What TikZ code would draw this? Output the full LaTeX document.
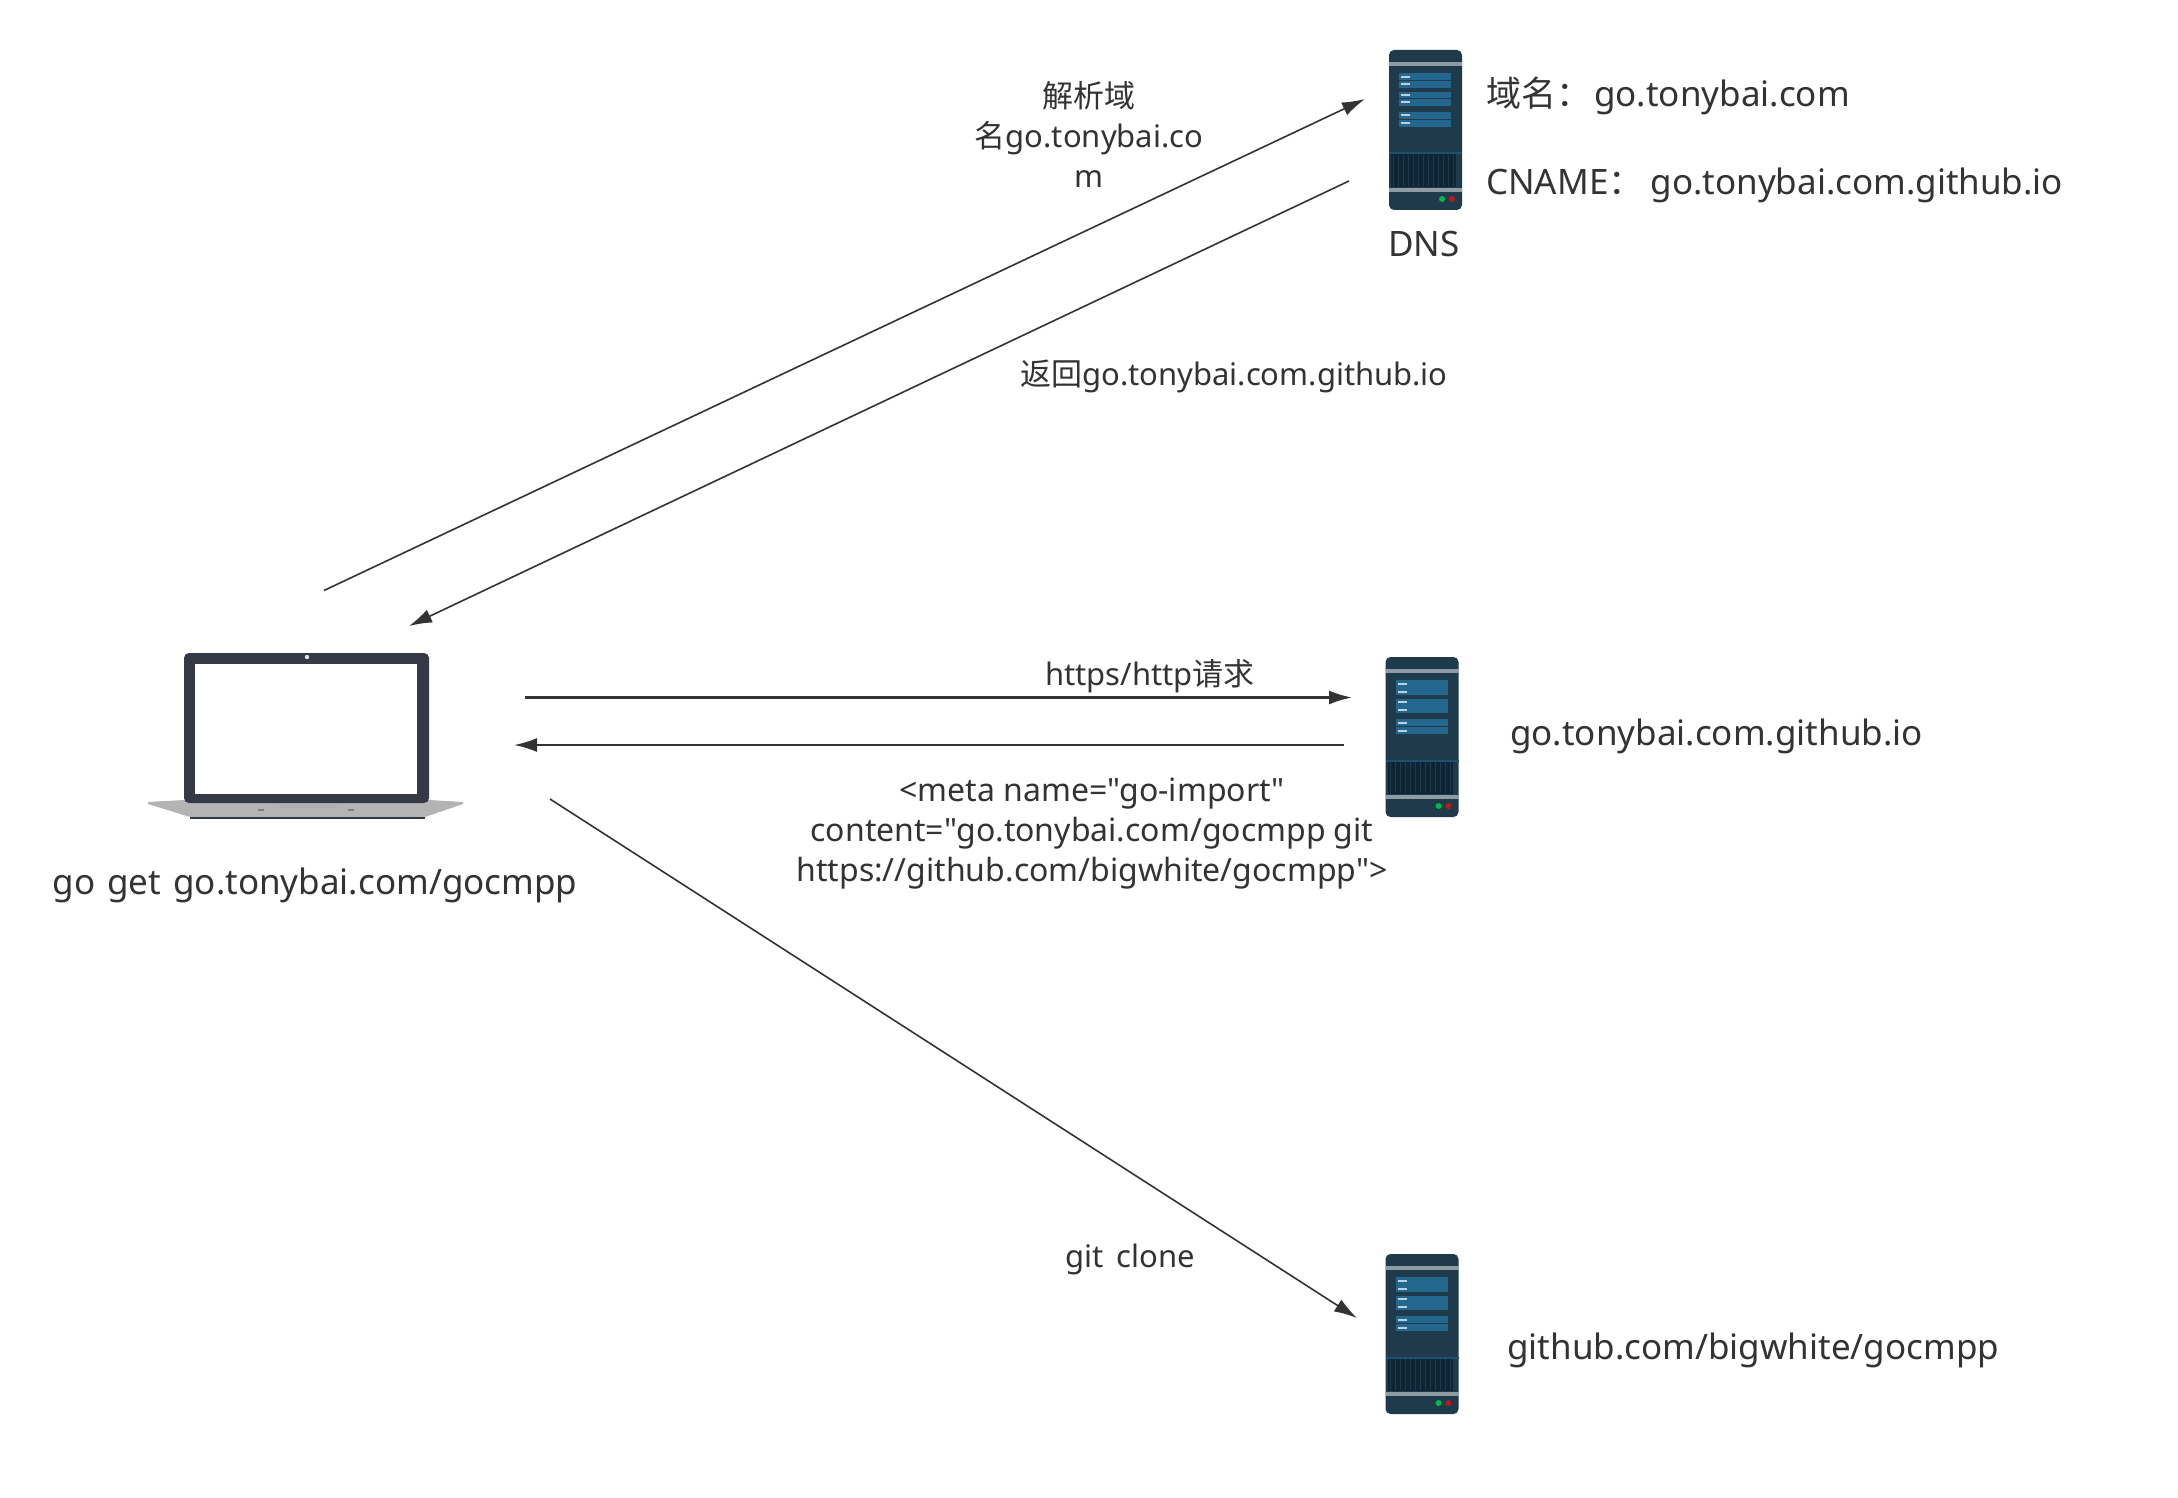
\documentclass[tikz,border=0pt]{standalone}
\usepackage{fontspec}
\newfontfamily\lat{Noto Sans}
\newfontfamily\cjk{Noto Sans CJK SC}
\usetikzlibrary{arrows.meta}
\definecolor{ink}{HTML}{333333}
\definecolor{srvbody}{HTML}{1F3A4B}
\definecolor{srvband}{HTML}{8D9BA5}
\definecolor{srvpanel}{HTML}{23678F}
\definecolor{srvgrille}{HTML}{0F2536}
\definecolor{srvline}{HTML}{1B5272}
\definecolor{lid}{HTML}{353945}
\definecolor{basec}{HTML}{B4B4B4}
\tikzset{
  x=1pt,y=-1pt,
  link/.style={draw=ink,line width=1.6pt,-{Latex[length=23pt,width=14pt]}},
  hlink/.style={link,line width=2.2pt},
  small/.style={text=ink,font=\lat\fontsize{31}{40}\selectfont,inner sep=0pt,align=center},
  big/.style={text=ink,font=\lat\fontsize{35}{42}\selectfont,inner sep=0pt},
  pics/server/.style={code={
    \fill[srvbody,rounded corners=5pt] (0,0) rectangle (73,160);
    \fill[srvband] (0,12) rectangle (73,16);
    \fill[srvband] (0,138) rectangle (73,142);
    \foreach \a/\b in {23/30.5,31/38,42/48.5,49/56,62/69,70/77}{
      \fill[srvpanel] (10,\a) rectangle (62,\b);
      \fill[white!70!srvpanel] (12,{(\a+\b)/2-1}) rectangle (21,{(\a+\b)/2+1});
    }
    \fill[srvline] (0,102.5) rectangle (73,104.5);
    \fill[srvgrille] (2,104.5) rectangle (67,137);
    \foreach \i in {0,...,12}{
      \fill[srvbody] ({4+5*\i},105) rectangle ({5.2+5*\i},136);
    }
    \fill[green!45!teal] (53,149) circle (3);
    \fill[red!70!black!90!white] (63,149) circle (3);
  }}
}
\begin{document}
\begin{tikzpicture}
\useasboundingbox (0,0) rectangle (2178,1498);
% laptop
\fill[basec] (148,802) -- (184,800) -- (429,800) -- (463,802) -- (463,804) -- (425,817) -- (190,817) -- (148,804) -- cycle;
\fill[lid,rounded corners=5pt] (184,803) -- (184,653) -- (429,653) -- (429,803) -- cycle;
\fill[white] (195,664) rectangle (417,794);
\fill[white!85!lid] (307,657) circle (2.2);
\fill[gray!110!black!70] (279,805) rectangle (337,808);
\fill[lid] (190,817) rectangle (425,818.5);
\fill[gray] (258,808.5) rectangle (264,810.5);
\fill[gray] (348,808.5) rectangle (354,810.5);
% servers
\pic at (1389,50) {server};
\pic at (1385.5,657) {server};
\pic at (1385.5,1254) {server};
% anchors
\coordinate (laptopOut) at (324,590.5);
\coordinate (dnsIn) at (1365,99);
\coordinate (dnsOut) at (1349,181);
\coordinate (laptopIn) at (409,626);
\coordinate (reqStart) at (525,697.5);
\coordinate (reqEnd) at (1352,697.5);
\coordinate (respStart) at (1344,745);
\coordinate (respEnd) at (514,745);
\coordinate (cloneStart) at (550,799);
\coordinate (cloneEnd) at (1357,1318);
% arrows
\draw[link] (laptopOut) -- (dnsIn);
\draw[link] (dnsOut) -- (laptopIn);
\draw[hlink] (reqStart) -- (reqEnd);
\draw[hlink] (respStart) -- (respEnd);
\draw[link] (cloneStart) -- (cloneEnd);
% labels
\node[small] (resolve) at (1089,134.5) {{\cjk 解析域}\\{\cjk 名}go.tonybai.co\\m};
\node[small] (ret) at (1234,376) {{\cjk 返回}go.tonybai.com.github.io};
\node[small] (req) at (1150,676) {https/http{\cjk 请求}};
\node[small,font=\lat\fontsize{32}{40}\selectfont] (meta) at (1092,834) {<meta name="go-import"\\content="go.tonybai.com/gocmpp git\\https://github.com/bigwhite/gocmpp">};
\node[small] (clone) at (1130,1259) {git\ \,clone};
\node[big,anchor=west] (dom) at (1486,96) {{\cjk 域名：}\kern3pt go.tonybai.com};
\node[big,anchor=west] (cname) at (1486,185) {CNAME{\cjk ：}\kern7pt go.tonybai.com.github.io};
\node[big] (dns) at (1424,244.5) {DNS};
\node[big,anchor=west] (gh) at (1510,736) {go.tonybai.com.github.io};
\node[big,anchor=west] (repo) at (1507,1350) {github.com/bigwhite/gocmpp};
\node[big] (cmd) at (315,885) {go\ \kern3pt get\ \kern3pt go.tonybai.com/gocmpp};
\end{tikzpicture}
\end{document}
